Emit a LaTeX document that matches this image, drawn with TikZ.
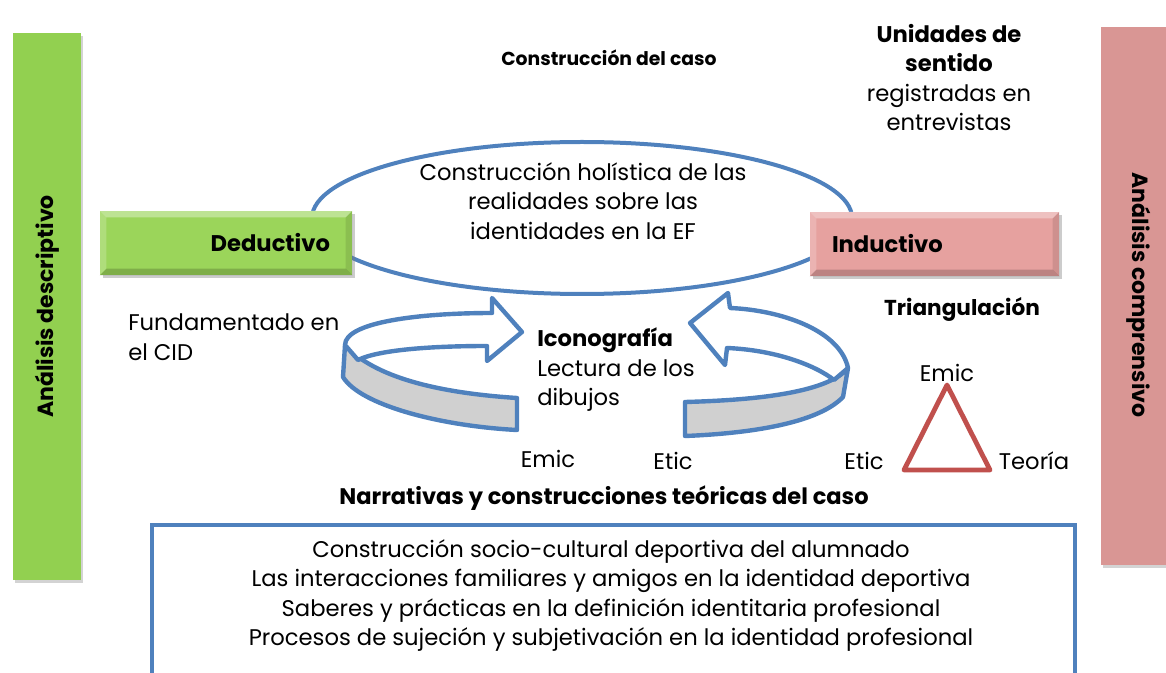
\documentclass[tikz,border=0pt]{standalone}
\usepackage{fontspec}
\setmainfont{Poppins}
\usetikzlibrary{shadows,shapes.geometric}
\definecolor{barG}{HTML}{92D050}
\definecolor{barR}{HTML}{D99694}
\definecolor{boxG}{HTML}{9BD55A}
\definecolor{boxR}{HTML}{E6A19F}
\definecolor{blu}{HTML}{4F81BD}
\definecolor{tri}{HTML}{C0504D}
\definecolor{band}{HTML}{D0D0D0}
\newcommand{\fmain}{\fontsize{17}{22.1}\selectfont}
\newcommand{\fbold}{\fontsize{16.5}{22.1}\selectfont\bfseries}
\begin{document}
\begin{tikzpicture}[x=0.75pt,y=-0.75pt,
  bar/.style={fill=#1, draw=none, minimum width=51pt, minimum height=410pt, inner sep=0pt,
     drop shadow={shadow xshift=1.5pt, shadow yshift=-2pt, opacity=0.35}},
  bevbox/.style={fill=#1, draw=none, minimum width=189pt, minimum height=48pt, inner xsep=16.5pt,
     drop shadow={shadow xshift=2pt, shadow yshift=-2.5pt, opacity=0.4}},
  txt/.style={inner sep=0pt, font=\fmain},
  btxt/.style={inner sep=0pt, font=\fbold},
  blueline/.style={draw=blu, line width=3pt},
  ring/.style={draw=blu, line width=3.3pt, line join=round}
]
\useasboundingbox (0,0) rectangle (1166,673);

% side bars
\node[bar=barG] (lbar) at (47,306.5) {};
\node[btxt, rotate=90] (ltext) at (lbar.center) {Análisis descriptivo};
\node[bar=barR, minimum height=403.5pt, minimum width=52pt] (rbar) at (1135.5,296) {};
\node[btxt, rotate=-90] (rtext) at (1139,295) {Análisis comprensivo};

% top labels
\node[btxt, font=\fontsize{14.1}{17}\selectfont\bfseries] (caso) at (609,58) {Construcción del caso};
\node[txt, align=center] (unid) at (949,77.5) {{\bfseries Unidades de}\\{\bfseries sentido}\\registradas en\\entrevistas};

% ellipse
\node[ellipse, blueline, minimum width=405pt, minimum height=114pt, inner sep=0pt] (ell) at (582,218) {};
\node[txt, align=center] (elltext) at (583,201) {Construcción holística de las\\realidades sobre las\\identidades en la EF};

% Deductivo / Inductivo
\node[bevbox=boxG, text width=156pt, align=right, font=\fontsize{17}{20}\selectfont\bfseries] (ded) at (226,243) {Deductivo};
\node[bevbox=boxR, minimum width=186.75pt, text width=153.75pt, align=left, font=\fontsize{17}{20}\selectfont\bfseries] (ind) at (934.5,244) {Inductivo};
\foreach \b in {ded,ind}{
  \fill[white,opacity=0.35] (\b.north west) -- (\b.north east) -- ([xshift=-5pt,yshift=-5pt]\b.north east) -- ([xshift=5pt,yshift=-5pt]\b.north west) -- cycle;
  \fill[white,opacity=0.2] (\b.north west) -- ([xshift=5pt,yshift=-5pt]\b.north west) -- ([xshift=5pt,yshift=5pt]\b.south west) -- (\b.south west) -- cycle;
  \fill[black,opacity=0.18] (\b.south west) -- (\b.south east) -- ([xshift=-5pt,yshift=5pt]\b.south east) -- ([xshift=5pt,yshift=5pt]\b.south west) -- cycle;
  \fill[black,opacity=0.1] (\b.north east) -- ([xshift=-5pt,yshift=-5pt]\b.north east) -- ([xshift=-5pt,yshift=5pt]\b.south east) -- (\b.south east) -- cycle;
}

% left text
\node[txt, align=left, anchor=west] (fund) at (128,337) {Fundamentado en\\el CID};

% left circular arrow
\filldraw[ring, fill=band] (345,345) -- (343,377) .. controls (360,405) and (440,426) .. (517,430) -- (517,398) .. controls (440,393) and (375,378) .. (345,345) -- cycle;
\filldraw[ring, fill=white] (345,345) .. controls (345,322) and (420,313) .. (492,313) -- (492,298) -- (522,332) -- (487,361) -- (487,346) .. controls (430,346) and (378,350) .. (358,360) -- cycle;

% right circular arrow
\filldraw[ring, fill=band] (848,368) -- (843,397) .. controls (820,421) and (760,433) .. (685,436) -- (685,402) .. controls (760,400) and (828,392) .. (848,368) -- cycle;
\filldraw[ring, fill=white] (848,368) .. controls (840,330) and (780,310) .. (730,308) -- (728,293) -- (690,323) -- (725,365) -- (727,348) .. controls (775,350) and (815,365) .. (834,380) -- cycle;

% Iconografia
\node[txt, align=left, anchor=west] (icon) at (537,370) {{\fontsize{17}{22.1}\selectfont\bfseries Iconografía}\\Lectura de los\\dibujos};

% Emic / Etic
\node[txt] (emic1) at (548,459) {Emic};
\node[txt] (etic1) at (673,461) {Etic};
\node[txt] (etic2) at (864,461) {Etic};
\node[txt] (teoria) at (1034,461) {Teoría};
\node[txt] (emic2) at (947,373) {Emic};
\node[btxt, font=\fontsize{16.2}{20}\selectfont\bfseries] (triang) at (962,309) {Triangulación};

% triangle
\coordinate (ta) at (947,385);
\coordinate (tb) at (904,470);
\coordinate (tc) at (990,470);
\draw[tri, line width=3.6pt, line join=round] (ta) -- (tb) -- (tc) -- cycle;

% bottom
\node[btxt, font=\fontsize{16.9}{20}\selectfont\bfseries] (narr) at (604,498) {Narrativas y construcciones teóricas del caso};
\node[draw=blu, line width=3pt, minimum width=692.25pt, minimum height=150pt, anchor=north west, inner sep=0pt] (bot) at (150,523) {};
\node[txt, align=center] (bottext) at (611,595.5) {Construcción socio-cultural deportiva del alumnado\\Las interacciones familiares y amigos en la identidad deportiva\\Saberes y prácticas en la definición identitaria profesional\\Procesos de sujeción y subjetivación en la identidad profesional};
\end{tikzpicture}
\end{document}
